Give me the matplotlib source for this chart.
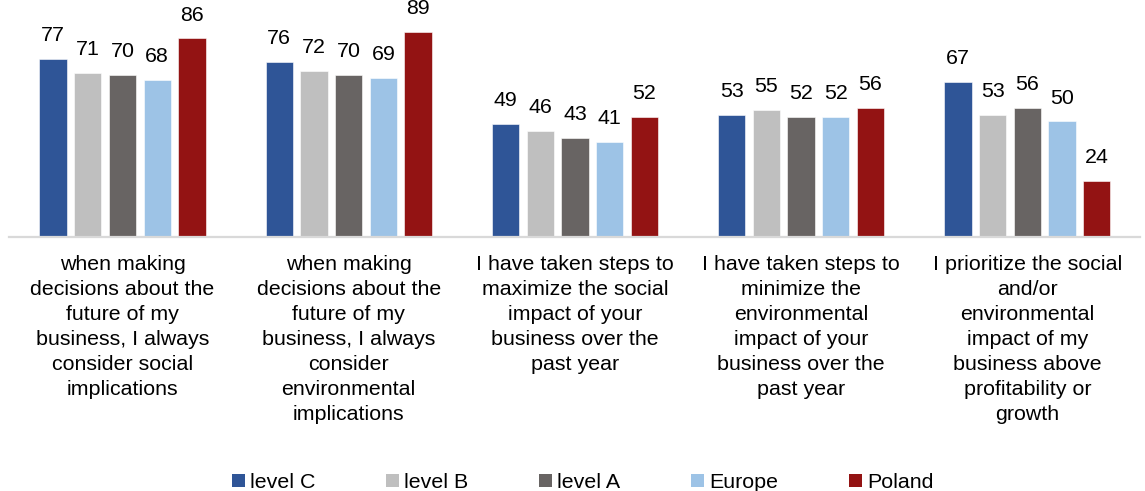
import numpy as np
import matplotlib.pyplot as plt
from matplotlib.patches import Patch

plt.rcParams['font.family'] = ['Liberation Sans', 'DejaVu Sans']

categories = [
    "when making\ndecisions about the\nfuture of my\nbusiness, I always\nconsider social\nimplications",
    "when making\ndecisions about the\nfuture of my\nbusiness, I always\nconsider\nenvironmental\nimplications",
    "I have taken steps to\nmaximize the social\nimpact of your\nbusiness over the\npast year",
    "I have taken steps to\nminimize the\nenvironmental\nimpact of your\nbusiness over the\npast year",
    "I prioritize the social\nand/or\nenvironmental\nimpact of my\nbusiness above\nprofitability or\ngrowth",
]
series_names = ["level C", "level B", "level A", "Europe", "Poland"]
level_c = [77, 76, 49, 53, 67]
level_b = [71, 72, 46, 55, 53]
level_a = [70, 70, 43, 52, 56]
europe = [68, 69, 41, 52, 50]
poland = [86, 89, 52, 56, 24]

colors = ["#2F5597", "#BFBFBF", "#686463", "#9DC3E6", "#931313"]
FS = 15.4


def main():
    fig = plt.figure(figsize=(11.45, 4.91), dpi=100)
    ax = fig.add_axes([0.0082, 0.518, 0.9878, 0.4694])

    x = np.arange(len(categories))
    pitch = 0.1534
    width = 0.121
    all_series = [level_c, level_b, level_a, europe, poland]
    for i, (vals, col) in enumerate(zip(all_series, colors)):
        pos = x + (i - 2) * pitch
        bars = ax.bar(pos, vals, width, color=col, edgecolor='white',
                      linewidth=0.4)
        for b, v in zip(bars, vals):
            ax.annotate(str(v), (b.get_x() + b.get_width() / 2, v),
                        xytext=(0, 10), textcoords='offset points',
                        ha='center', va='bottom', fontsize=FS)

    ax.set_xlim(-0.5, len(categories) - 0.5)
    ax.set_ylim(0, 100)
    ax.set_yticks([])
    ax.set_xticks([])
    for side in ['top', 'right', 'left']:
        ax.spines[side].set_visible(False)
    ax.spines['bottom'].set_color('#D9D9D9')
    ax.spines['bottom'].set_linewidth(1.6)

    # category labels under each group
    for xi, label in zip(x, categories):
        ax.text(xi, -8.0, label, ha='center', va='top', fontsize=FS,
                linespacing=1.4)

    handles = [Patch(facecolor=c, edgecolor='none') for c in colors]
    fig.legend(handles, series_names, loc='center', ncol=5,
               bbox_to_anchor=(0.509, 0.017), frameon=False, fontsize=FS,
               handlelength=0.6, handleheight=0.6, handletextpad=0.25,
               columnspacing=3.3)

    fig.savefig('out.png', dpi=100)


if __name__ == '__main__':
    main()
